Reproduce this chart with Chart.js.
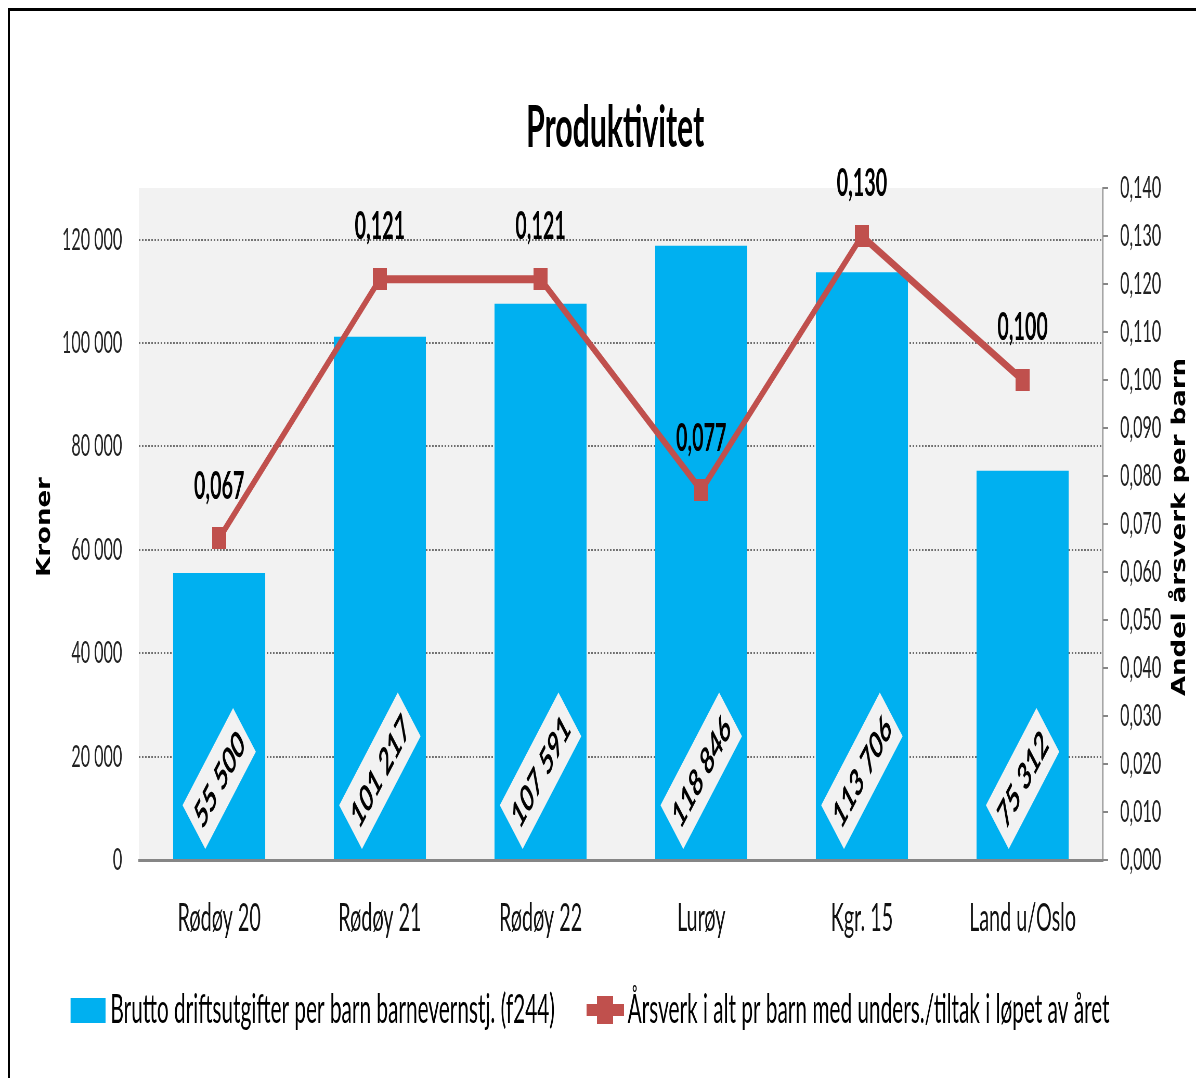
<!DOCTYPE html>
<html>
<head>
<meta charset="utf-8">
<script src="https://cdn.jsdelivr.net/npm/chart.js@4"></script>
<style>
    html, body { margin: 0; padding: 0; background: #fff; overflow: hidden; }
    #wrap { position: relative; width: 1196px; height: 1078px; overflow: hidden; }
    #frame { position: absolute; left: 8px; top: 8px; width: 1300px; height: 1200px;
             border-top: 3px solid #000; border-left: 2px solid #000; box-sizing: border-box; }
    #myChart { position: absolute; left: 0; top: 0; transform: scaleX(0.52); transform-origin: 0 0; }
</style>
</head>
<body>
<div id="wrap">
    <div id="frame"></div>
    <canvas id="myChart" width="2300" height="1078"></canvas>
</div>
<script>
var labels = ["Rødøy 20", "Rødøy 21", "Rødøy 22", "Lurøy", "Kgr. 15", "Land u/Oslo"];
var kronerPerBarn = [55500, 101217, 107591, 118846, 113706, 75312];
var aarsverkPerBarn = [0.067, 0.121, 0.121, 0.077, 0.130, 0.100];
var kronerTicks = [0, 20000, 40000, 60000, 80000, 100000, 120000];
var barLabel = "Brutto driftsutgifter per barn barnevernstj. (f244)";
var lineLabel = "Årsverk i alt pr barn med unders./tiltak i løpet av året";
var title = "Produktivitet";

var blue = "#00b0f0";
var red = "#c0504d";
var axisGrey = "#868686";

function kroner(v) {
    return String(Math.round(v)).replace(/\B(?=(\d{3})+(?!\d))/g, " ");
}

function andel(v) {
    return v.toFixed(3).replace(".", ",");
}

// small canvases used as marker and legend symbols
function makeIcon(w, h, draw) {
    var c = document.createElement("canvas");
    c.width = w;
    c.height = h;
    draw(c.getContext("2d"));
    return c;
}

var marker = makeIcon(27, 22, function (g) {
    g.fillStyle = red;
    g.fillRect(0, 0, 27, 22);
});
// legend symbols get some empty room on the left so they sit close to their text
var legendBox = makeIcon(101, 25, function (g) {
    g.fillStyle = blue;
    g.fillRect(34, 0, 67, 25);
});
var legendPlus = makeIcon(106, 28, function (g) {
    g.fillStyle = red;
    g.fillRect(34, 8, 72, 12);
    g.fillRect(54, 0, 31, 28);
});

var plotBackground = {
    id: "plotBackground",
    beforeDraw: function (chart) {
        var a = chart.chartArea;
        var ctx = chart.ctx;
        ctx.save();
        ctx.fillStyle = "#f2f2f2";
        ctx.fillRect(a.left, a.top, a.right - a.left, a.bottom - a.top);
        ctx.restore();
    }
};

var valueLabels = {
    id: "valueLabels",
    afterDatasetsDraw: function (chart) {
        var ctx = chart.ctx;
        ctx.save();

        // rotated value boxes at the foot of each bar
        var bars = chart.getDatasetMeta(0).data;
        ctx.font = "bold 38px Lato";
        ctx.textAlign = "center";
        ctx.textBaseline = "middle";
        bars.forEach(function (bar, i) {
            var txt = kroner(kronerPerBarn[i]);
            var L = ctx.measureText(txt).width + 18;
            var H = 62;
            var cy = bar.base - 10 - (L + H) / (2 * Math.SQRT2);
            ctx.save();
            ctx.translate(bar.x, cy);
            ctx.rotate(-Math.PI / 4);
            ctx.fillStyle = "#f2f2f2";
            ctx.fillRect(-L / 2, -H / 2, L, H);
            ctx.fillStyle = "#000";
            ctx.fillText(txt, 0, 2);
            ctx.restore();
        });

        // labels above the line markers
        var points = chart.getDatasetMeta(1).data;
        ctx.fillStyle = "#000";
        points.forEach(function (p, i) {
            ctx.fillText(andel(aarsverkPerBarn[i]), p.x, p.y - 52);
        });
        ctx.restore();
    }
};

var titles = {
    id: "titles",
    afterDraw: function (chart) {
        var a = chart.chartArea;
        var ctx = chart.ctx;
        var cy = (a.top + a.bottom) / 2 + 3;
        ctx.save();
        ctx.fillStyle = "#000";
        ctx.textAlign = "center";
        ctx.textBaseline = "middle";

        ctx.font = "bold 58px Lato";
        ctx.fillText(title, 1183, 128);

        ctx.font = "bold 26px 'DejaVu Sans'";
        [["Kroner", 87], ["Andel årsverk per barn", 2270]].forEach(function (t) {
            ctx.save();
            ctx.translate(t[1], cy);
            ctx.scale(1.4, 1);
            ctx.rotate(-Math.PI / 2);
            ctx.fillText(t[0], 0, 0);
            ctx.restore();
        });
        ctx.restore();
    }
};

function main() {
    var ctx = document.getElementById("myChart").getContext("2d");
    var myChart = new Chart(ctx, {
        type: "bar",
        data: {
            labels: labels,
            datasets: [{
                label: barLabel,
                data: kronerPerBarn,
                backgroundColor: blue,
                yAxisID: "y",
                categoryPercentage: 1,
                barPercentage: 0.573,
                order: 2
            }, {
                type: "line",
                label: lineLabel,
                data: aarsverkPerBarn,
                yAxisID: "y1",
                borderColor: red,
                backgroundColor: red,
                borderWidth: 8,
                pointStyle: marker,
                pointRadius: 12,
                tension: 0,
                order: 1
            }]
        },
        options: {
            responsive: false,
            animation: false,
            devicePixelRatio: 1,
            layout: {padding: {left: 0, right: 54, top: 188, bottom: 38}},
            plugins: {
                title: {display: false},
                legend: {
                    position: "bottom",
                    labels: {
                        usePointStyle: true,
                        pointStyleWidth: 80,
                        padding: 40,
                        color: "#000",
                        font: {family: "Lato", size: 40},
                        generateLabels: function () {
                            return [
                                {text: barLabel, pointStyle: legendBox, fillStyle: blue, lineWidth: 0, datasetIndex: 0, hidden: false},
                                {text: lineLabel, pointStyle: legendPlus, fillStyle: red, lineWidth: 0, datasetIndex: 1, hidden: false}
                            ];
                        }
                    }
                },
                tooltip: {enabled: false}
            },
            scales: {
                x: {
                    grid: {display: false},
                    border: {display: true, color: axisGrey, width: 3},
                    ticks: {color: "#111", font: {family: "Lato", size: 38}, padding: 28},
                    afterFit: function (scale) {
                        scale.height = 90;
                    }
                },
                y: {
                    position: "left",
                    min: 0,
                    max: 130000,
                    ticks: {
                        color: "#222",
                        font: {family: "Lato", size: 31},
                        padding: 32,
                        callback: function (v) {
                            return kroner(v);
                        }
                    },
                    afterBuildTicks: function (scale) {
                        scale.ticks = kronerTicks.map(function (v) {
                            return {value: v};
                        });
                    },
                    grid: {color: "#6f6f6f", lineWidth: 2, drawTicks: false},
                    border: {display: false, dash: [3, 3]},
                    afterFit: function (scale) {
                        scale.width = 267;
                    }
                },
                y1: {
                    position: "right",
                    min: 0,
                    max: 0.14,
                    ticks: {
                        stepSize: 0.01,
                        color: "#222",
                        font: {family: "Lato", size: 31},
                        padding: 23,
                        callback: function (v) {
                            return andel(v);
                        }
                    },
                    grid: {drawOnChartArea: false, drawTicks: true, tickLength: 10, color: axisGrey, lineWidth: 2},
                    border: {display: true, color: axisGrey, width: 2},
                    afterFit: function (scale) {
                        scale.width = 125;
                    }
                }
            }
        },
        plugins: [plotBackground, valueLabels, titles]
    });
}

main();
</script>
</body>
</html>
